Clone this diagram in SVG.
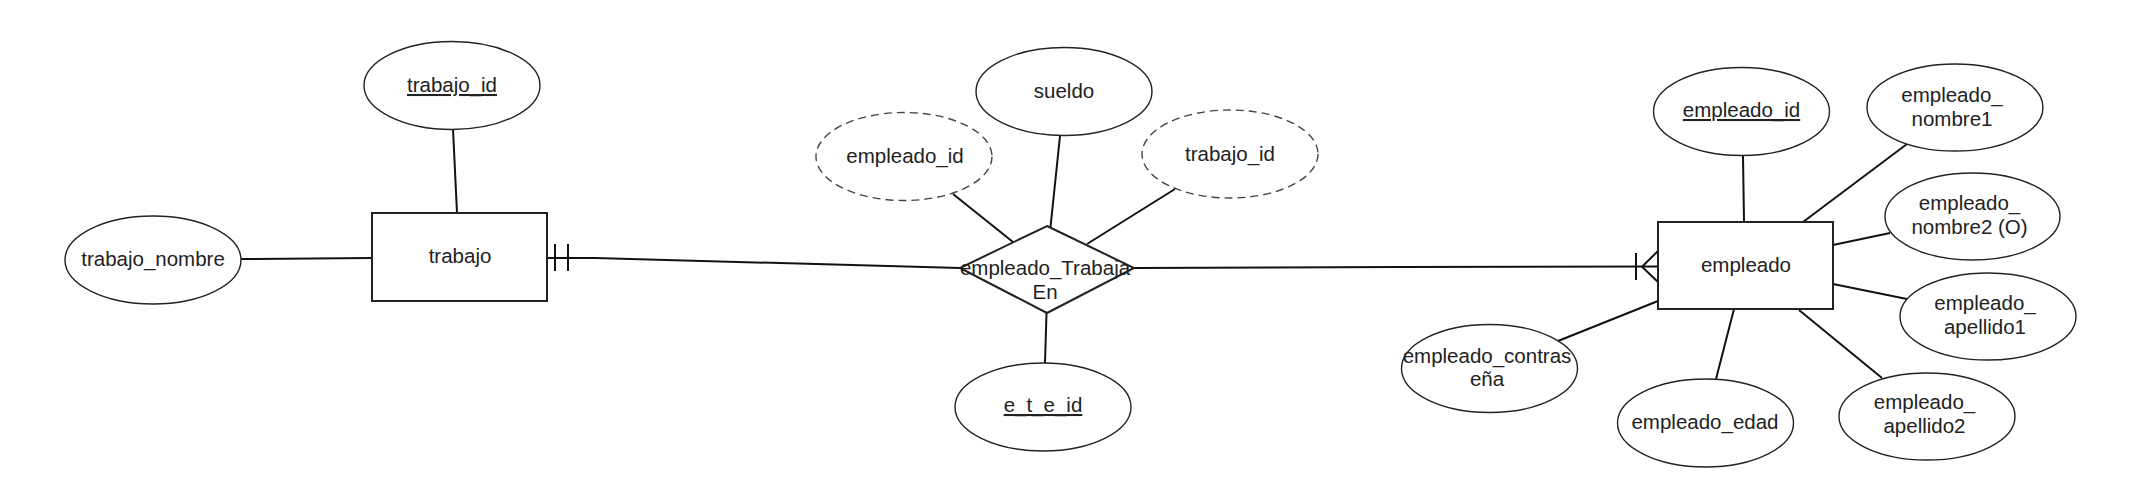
<svg xmlns="http://www.w3.org/2000/svg" width="2134" height="480" viewBox="0 0 2134 480">
<style>
.attr{fill:#fff;stroke:#222;stroke-width:1.4}
.dash{fill:#fff;stroke:#444;stroke-width:1.4;stroke-dasharray:8 5}
.ent{fill:#fff;stroke:#222;stroke-width:2}
.conn{fill:none;stroke:#111;stroke-width:2}
text{font-family:"Liberation Sans",Arial,sans-serif;font-size:20.5px;fill:#222;text-anchor:middle}
.u{text-decoration:underline}
</style>
<rect width="2134" height="480" fill="#fff"/>
<g id="connectors">
<polyline class="conn" points="241,259 372,258"/>
<line class="conn" x1="453" y1="129" x2="457" y2="213"/>
<polyline class="conn" points="547,258 595,258 960,268"/>
<line class="conn" x1="555" y1="244" x2="555" y2="271"/>
<line class="conn" x1="568" y1="244" x2="568" y2="271"/>
<line class="conn" x1="953" y1="194" x2="1013" y2="242"/>
<line class="conn" x1="1060" y1="136" x2="1050.5" y2="227"/>
<line class="conn" x1="1175" y1="189" x2="1087" y2="244"/>
<line class="conn" x1="1046.5" y1="313" x2="1045" y2="363"/>
<polyline class="conn" points="1134,268 1400,267 1658,266.5"/>
<line class="conn" x1="1636" y1="253" x2="1636" y2="280"/>
<polyline class="conn" points="1658,251 1642,266.7 1658,282"/>
<line class="conn" x1="1743" y1="156" x2="1744" y2="222"/>
<line class="conn" x1="1907" y1="144" x2="1803" y2="222"/>
<line class="conn" x1="1833" y1="245" x2="1890" y2="233"/>
<line class="conn" x1="1833" y1="284" x2="1907" y2="299"/>
<line class="conn" x1="1799" y1="310" x2="1882" y2="378"/>
<line class="conn" x1="1734" y1="309" x2="1716" y2="379"/>
<line class="conn" x1="1658" y1="301" x2="1558" y2="341"/>
</g>
<g id="trabajo_nombre"><ellipse class="attr" cx="153" cy="260" rx="88" ry="44"/><text x="153" y="266">trabajo_nombre</text></g>
<g id="trabajo_id"><ellipse class="attr" cx="452" cy="85.5" rx="88" ry="44"/><text class="u" x="452" y="92">trabajo_id</text></g>
<g id="trabajo"><rect class="ent" x="372" y="213" width="175" height="88"/><text x="460" y="263">trabajo</text></g>
<g id="rel_empleado_id"><ellipse class="dash" cx="904" cy="156.5" rx="88" ry="44"/><text x="905" y="163">empleado_id</text></g>
<g id="sueldo"><ellipse class="attr" cx="1064" cy="91.5" rx="88" ry="44"/><text x="1064" y="98">sueldo</text></g>
<g id="rel_trabajo_id"><ellipse class="dash" cx="1230" cy="154" rx="88" ry="44"/><text x="1230" y="161">trabajo_id</text></g>
<g id="empleado_TrabajaEn"><polygon class="ent" points="1047,226 1134,268 1047,313 960,268"/><text x="1045" y="275">empleado_Trabaja</text><text x="1045" y="299">En</text></g>
<g id="e_t_e_id"><ellipse class="attr" cx="1043" cy="407" rx="88" ry="44"/><text class="u" x="1043" y="412">e_t_e_id</text></g>
<g id="empleado"><rect class="ent" x="1658" y="222" width="175" height="87"/><text x="1746" y="272">empleado</text></g>
<g id="empleado_id"><ellipse class="attr" cx="1741.5" cy="111.5" rx="88" ry="44"/><text class="u" x="1741.5" y="117">empleado_id</text></g>
<g id="empleado_nombre1"><ellipse class="attr" cx="1955" cy="107.5" rx="88" ry="43.5"/><text x="1952" y="102">empleado_</text><text x="1952" y="126">nombre1</text></g>
<g id="empleado_nombre2"><ellipse class="attr" cx="1972.5" cy="216.5" rx="87.5" ry="43.5"/><text x="1969.5" y="209.5">empleado_</text><text x="1969.5" y="234">nombre2 (O)</text></g>
<g id="empleado_apellido1"><ellipse class="attr" cx="1988" cy="316.5" rx="88" ry="43.5"/><text x="1985" y="310">empleado_</text><text x="1985" y="333.5">apellido1</text></g>
<g id="empleado_apellido2"><ellipse class="attr" cx="1927" cy="416.5" rx="88" ry="43.5"/><text x="1924.5" y="408.5">empleado_</text><text x="1924.5" y="432.5">apellido2</text></g>
<g id="empleado_edad"><ellipse class="attr" cx="1705.5" cy="423" rx="88" ry="44"/><text x="1705" y="428.5">empleado_edad</text></g>
<g id="empleado_contrasena"><ellipse class="attr" cx="1489.5" cy="368.5" rx="88" ry="44"/><text x="1487" y="363">empleado_contras</text><text x="1487" y="386">eña</text></g>
</svg>
